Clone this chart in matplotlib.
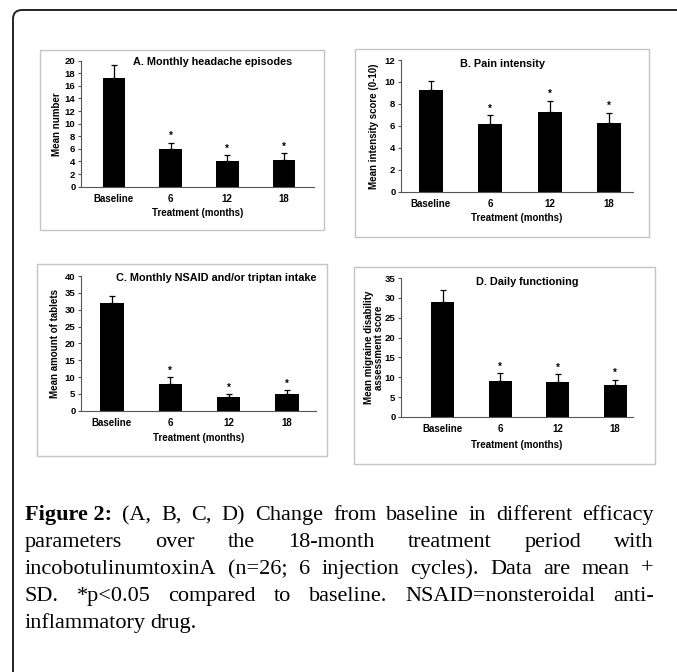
import matplotlib
matplotlib.use("Agg")
import matplotlib.pyplot as plt
from matplotlib.patches import FancyBboxPatch, Rectangle
from matplotlib.transforms import IdentityTransform

W, H = 677, 672

categories = ["Baseline", "6", "12", "18"]
significant = [False, True, True, True]

# A. monthly headache episodes
a_mean = [17.2, 6.0, 4.0, 4.3]
a_sd = [2.1, 1.0, 1.0, 1.0]
# B. pain intensity
b_mean = [9.3, 6.2, 7.3, 6.3]
b_sd = [0.8, 0.8, 1.0, 0.9]
# C. NSAID / triptan intake
c_mean = [32.0, 8.0, 4.0, 5.0]
c_sd = [2.0, 2.0, 1.0, 1.0]
# D. daily functioning (MIDAS)
d_mean = [29.0, 9.0, 8.7, 8.1]
d_sd = [2.9, 2.1, 2.1, 1.3]

titles = ["A. Monthly headache episodes", "B. Pain intensity",
          "C. Monthly NSAID and/or triptan intake", "D. Daily functioning"]
ylabels = ["Mean number", "Mean intensity score (0-10)",
           "Mean amount of tablets", "Mean migraine disability\nassessment score"]
xlabel = "Treatment (months)"
yticks = [list(range(0, 21, 2)), list(range(0, 13, 2)),
          list(range(0, 41, 5)), list(range(0, 36, 5))]

caption_lines = [
    "Figure 2: (A, B, C, D) Change from baseline in different efficacy",
    "parameters over the 18-month treatment period with",
    "incobotulinumtoxinA (n=26; 6 injection cycles). Data are mean +",
    "SD. *p<0.05 compared to baseline. NSAID=nonsteroidal anti-",
    "inflammatory drug.",
]

# layout in pixels (x from left, y from top)
panels = [
    dict(mean=a_mean, sd=a_sd, box=(40, 50, 324, 230), ax=(81, 60.7, 314, 186.7),
         xlim=(-0.58, 3.53), title=(213, 62), ylab_x=57, xlab_y=213),
    dict(mean=b_mean, sd=b_sd, box=(355, 49, 649, 237), ax=(401, 60, 633, 191.7),
         xlim=(-0.5, 3.4), title=(502, 64), ylab_x=374, xlab_y=218),
    dict(mean=c_mean, sd=c_sd, box=(37, 264, 327, 456), ax=(81, 276, 316, 410.7),
         xlim=(-0.53, 3.5), title=(216, 278), ylab_x=55, xlab_y=438),
    dict(mean=d_mean, sd=d_sd, box=(354, 267, 655, 464), ax=(401, 278, 633, 417),
         xlim=(-0.73, 3.31), title=(527, 282), ylab_x=374, xlab_y=445),
]


def fx(x):
    return x / W


def fy(y):
    return 1 - y / H


plt.rcParams['font.family'] = ['Liberation Sans', 'DejaVu Sans']
fig = plt.figure(figsize=(W / 100, H / 100), dpi=100)

# outer frame, cut off at right and bottom
frame = FancyBboxPatch((13, -40), 720, H - 10 + 40, boxstyle="round,pad=0,rounding_size=9",
                       transform=IdentityTransform(), fill=False, edgecolor="#222222", lw=1.4)
fig.add_artist(frame)

x = list(range(len(categories)))
for i, p in enumerate(panels):
    bx0, by0, bx1, by1 = p["box"]
    fig.add_artist(Rectangle((fx(bx0), fy(by1)), fx(bx1) - fx(bx0), fy(by0) - fy(by1),
                             transform=fig.transFigure, fill=False, edgecolor="#c4c4c4", lw=1.0))
    l, t, r, b = p["ax"]
    ax = fig.add_axes([fx(l), fy(b), fx(r) - fx(l), fy(t) - fy(b)])
    ax.bar(x, p["mean"], width=0.4, color="black")
    lower = [0] * len(p["sd"])
    ax.errorbar(x, p["mean"], yerr=[lower, p["sd"]], fmt="none", ecolor="black",
                elinewidth=0.9, capsize=2.5, capthick=0.9)
    for xi, m, s, sig in zip(x, p["mean"], p["sd"], significant):
        if sig:
            ax.annotate("*", (xi, m + s), xytext=(0, 1), textcoords="offset points",
                        ha="center", va="bottom", fontsize=7, fontweight="bold")
    ax.set_xlim(*p["xlim"])
    ax.set_ylim(yticks[i][0], yticks[i][-1])
    ax.set_yticks(yticks[i])
    ax.set_xticks(x)
    ax.set_xticklabels(categories)
    for side in ("top", "right"):
        ax.spines[side].set_visible(False)
    for side in ("left", "bottom"):
        ax.spines[side].set_color("#555555")
        ax.spines[side].set_linewidth(0.8)
    ax.tick_params(axis="y", length=2.5, width=0.8, color="#555555", pad=1.5, labelsize=6.8)
    ax.tick_params(axis="x", length=0, pad=5, labelsize=7)
    for lab in ax.get_xticklabels() + ax.get_yticklabels():
        lab.set_fontweight("bold")
    ax.set_facecolor("none")
    fig.text(fx(p["title"][0]), fy(p["title"][1]), titles[i], ha="center", va="center",
             fontsize=7.8, fontweight="bold")
    fig.text(fx(p["ylab_x"]), fy((t + b) / 2), ylabels[i], rotation=90, ha="center",
             va="center", fontsize=7, fontweight="bold", linespacing=1.0)
    fig.text(fx((l + r) / 2), fy(p["xlab_y"]), xlabel, ha="center", va="center",
             fontsize=7, fontweight="bold")

# caption, justified like the journal layout
cap_x0, cap_x1 = 25, 654
cap_y = [520, 547, 574, 601, 628]
cap_size = 16
renderer = fig.canvas.get_renderer()
for n, line in enumerate(caption_lines):
    words = line.split(" ")
    items = []
    if n == 0:
        words = ["Figure 2:"] + words[2:]
    for k, w in enumerate(words):
        weight = "bold" if (n == 0 and k == 0) else "normal"
        txt = fig.text(0, fy(cap_y[n]), w, fontsize=cap_size, fontweight=weight,
                       family="Liberation Serif", va="baseline", ha="left")
        items.append(txt)
    widths = [tt.get_window_extent(renderer).width for tt in items]
    if n < len(caption_lines) - 1:
        gap = (cap_x1 - cap_x0 - sum(widths)) / (len(items) - 1)
    else:
        gap = 4.5
    pos = cap_x0
    for tt, w in zip(items, widths):
        tt.set_x(fx(pos))
        pos += w + gap

fig.savefig("out.png", dpi=100)
